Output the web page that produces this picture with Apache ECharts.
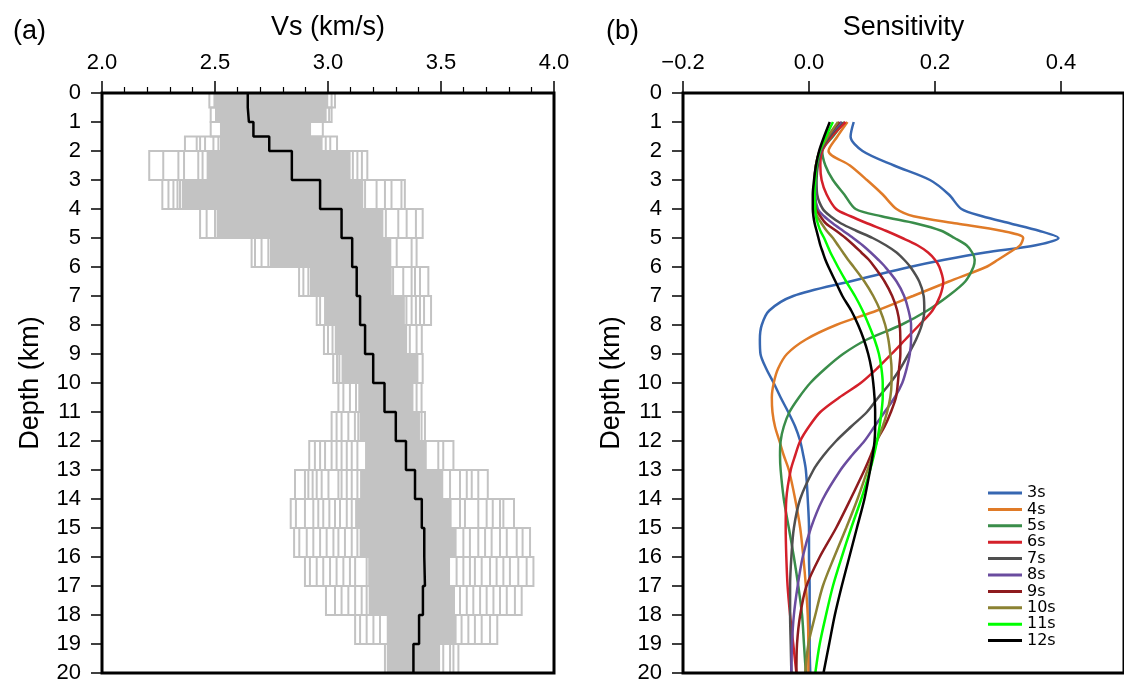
<!DOCTYPE html>
<html>
<head>
<meta charset="utf-8">
<script src="https://cdn.jsdelivr.net/npm/echarts@6/dist/echarts.min.js"></script>
<style>
html,body{margin:0;padding:0;background:#fff;}
#chart{width:1124px;height:684px;}
</style>
</head>
<body>
<div id="chart"></div>
<script>
// ---------- Panel (a): Vs profiles ----------
var layerTop    = [0, 0.5, 1, 1.5, 2, 3, 4, 5, 6, 7, 8, 9, 10, 11, 12, 13, 14, 15, 16, 17, 18, 19];
var layerBottom = [0.5, 1, 1.5, 2, 3, 4, 5, 6, 7, 8, 9, 10, 11, 12, 13, 14, 15, 16, 17, 18, 19, 20];
var vsMean = [2.645, 2.65, 2.67, 2.74, 2.84, 2.965, 3.06, 3.107, 3.127, 3.142, 3.164, 3.20, 3.25, 3.30, 3.345, 3.385, 3.415, 3.426, 3.429, 3.42, 3.403, 3.378];
var vsMin  = [2.475, 2.481, 2.481, 2.367, 2.209, 2.267, 2.434, 2.662, 2.872, 2.95, 2.982, 3.023, 3.046, 3.016, 2.917, 2.854, 2.835, 2.850, 2.898, 2.991, 3.120, 3.252];
var vsMax  = [3.031, 3.016, 2.977, 3.04, 3.174, 3.340, 3.419, 3.392, 3.444, 3.456, 3.415, 3.419, 3.414, 3.429, 3.555, 3.707, 3.823, 3.894, 3.909, 3.857, 3.749, 3.577];
var vsDenseLo = [2.493, 2.50, 2.522, 2.522, 2.463, 2.353, 2.507, 2.743, 2.92, 2.99, 3.03, 3.06, 3.134, 3.14, 3.164, 3.142, 3.12, 3.14, 3.178, 3.18, 3.26, 3.26];
var vsDenseHi = [3.001, 2.994, 2.925, 2.976, 3.10, 3.156, 3.245, 3.28, 3.282, 3.34, 3.35, 3.40, 3.378, 3.407, 3.437, 3.510, 3.547, 3.569, 3.540, 3.562, 3.569, 3.496];
var vsSparse = [
  [3.016],
  [3.005],
  [],
  [2.419, 2.434, 2.456, 2.493, 2.515, 2.99, 3.01],
  [2.271, 2.338, 2.363, 2.426, 2.445, 3.11, 3.13, 3.15],
  [2.294, 2.316, 2.334, 2.345, 3.164, 3.215, 3.252, 3.281, 3.325],
  [2.463, 2.50, 3.256, 3.311, 3.348, 3.389],
  [2.677, 2.706, 2.736, 3.304, 3.37],
  [2.891, 2.913, 3.288, 3.333, 3.37, 3.385, 3.407],
  [2.965, 2.987, 3.347, 3.37, 3.389, 3.407, 3.425],
  [3.0, 3.02, 3.362, 3.392],
  [3.04, 3.05],
  [3.068, 3.097, 3.124, 3.392],
  [3.038, 3.060, 3.090, 3.119, 3.134, 3.414],
  [2.942, 2.965, 2.987, 3.016, 3.038, 3.060, 3.083, 3.105, 3.130, 3.488, 3.510],
  [2.898, 2.913, 2.932, 2.950, 2.972, 3.002, 3.046, 3.060, 3.083, 3.105, 3.130, 3.540, 3.584, 3.614, 3.636, 3.665],
  [2.858, 2.898, 2.935, 2.957, 2.979, 3.006, 3.031, 3.053, 3.083, 3.105, 3.584, 3.606, 3.665, 3.702, 3.729, 3.761, 3.776],
  [2.873, 2.906, 2.935, 2.965, 2.994, 3.024, 3.046, 3.075, 3.105, 3.130, 3.599, 3.628, 3.665, 3.695, 3.724, 3.761, 3.791, 3.835, 3.861],
  [2.920, 2.950, 2.979, 3.009, 3.038, 3.068, 3.097, 3.120, 3.171, 3.569, 3.599, 3.628, 3.650, 3.680, 3.717, 3.746, 3.776, 3.805, 3.842, 3.879],
  [3.031, 3.060, 3.090, 3.120, 3.149, 3.171, 3.584, 3.614, 3.643, 3.673, 3.702, 3.732, 3.761, 3.791, 3.827],
  [3.142, 3.171, 3.201, 3.230, 3.591, 3.621, 3.650, 3.680, 3.717],
  [3.510, 3.540, 3.555]
];

// ---------- Panel (b): sensitivity kernels ----------
var kernelDepth = [1, 1.5, 2, 2.5, 3, 3.5, 4, 4.25, 4.5, 4.75, 5, 5.25, 5.5, 5.75, 6, 6.5, 7, 7.5, 8, 8.5, 9, 9.5, 10, 10.5, 11, 11.5, 12, 12.5, 13, 14, 15, 16, 17, 18, 19, 20];
var periods = ['3s', '4s', '5s', '6s', '7s', '8s', '9s', '10s', '11s', '12s'];
var periodColors = ['#3767b1', '#e07b28', '#3a8d4a', '#d4202a', '#4f4f4f', '#6a4c9f', '#8e1b1e', '#8b8233', '#00ff00', '#000000'];
var k3s  = [0.071, 0.066, 0.085, 0.135, 0.192, 0.222, 0.242, 0.275, 0.320, 0.365, 0.396, 0.360, 0.280, 0.215, 0.160, 0.065, -0.025, -0.063, -0.075, -0.078, -0.077, -0.068, -0.056, -0.045, -0.033, -0.022, -0.014, -0.009, -0.005, -0.002, 0.000, 0.000, 0.001, 0.001, 0.001, 0.002];
var k4s  = [0.061, 0.045, 0.031, 0.065, 0.092, 0.117, 0.139, 0.166, 0.235, 0.305, 0.340, 0.335, 0.318, 0.300, 0.281, 0.222, 0.165, 0.108, 0.043, -0.005, -0.035, -0.049, -0.056, -0.059, -0.058, -0.054, -0.047, -0.040, -0.032, -0.022, -0.014, -0.009, -0.005, -0.002, -0.001, -0.001];
var k5s  = [0.056, 0.038, 0.021, 0.026, 0.038, 0.056, 0.074, 0.115, 0.170, 0.210, 0.231, 0.250, 0.259, 0.263, 0.261, 0.248, 0.221, 0.188, 0.146, 0.092, 0.054, 0.026, 0.002, -0.016, -0.031, -0.040, -0.045, -0.046, -0.045, -0.040, -0.032, -0.024, -0.017, -0.011, -0.008, -0.005];
var k6s  = [0.058, 0.036, 0.021, 0.018, 0.020, 0.028, 0.043, 0.066, 0.093, 0.122, 0.148, 0.172, 0.189, 0.200, 0.207, 0.213, 0.208, 0.196, 0.175, 0.153, 0.131, 0.108, 0.082, 0.048, 0.018, 0.000, -0.014, -0.022, -0.029, -0.036, -0.037, -0.036, -0.034, -0.030, -0.025, -0.020];
var k7s  = [0.053, 0.033, 0.019, 0.014, 0.012, 0.013, 0.022, 0.034, 0.051, 0.075, 0.101, 0.122, 0.139, 0.151, 0.161, 0.175, 0.182, 0.183, 0.179, 0.170, 0.158, 0.145, 0.129, 0.110, 0.092, 0.067, 0.043, 0.023, 0.007, -0.014, -0.024, -0.028, -0.030, -0.030, -0.029, -0.028];
var k8s  = [0.051, 0.030, 0.018, 0.012, 0.010, 0.010, 0.014, 0.024, 0.038, 0.054, 0.070, 0.085, 0.098, 0.110, 0.121, 0.139, 0.151, 0.158, 0.162, 0.162, 0.160, 0.155, 0.148, 0.136, 0.120, 0.104, 0.088, 0.068, 0.050, 0.022, 0.003, -0.010, -0.018, -0.024, -0.027, -0.028];
var k9s  = [0.048, 0.030, 0.017, 0.011, 0.009, 0.009, 0.011, 0.018, 0.027, 0.043, 0.058, 0.071, 0.083, 0.095, 0.104, 0.120, 0.132, 0.140, 0.144, 0.145, 0.145, 0.143, 0.141, 0.138, 0.130, 0.120, 0.107, 0.098, 0.088, 0.066, 0.043, 0.017, -0.004, -0.014, -0.019, -0.020];
var k10s = [0.046, 0.030, 0.017, 0.011, 0.009, 0.008, 0.009, 0.013, 0.020, 0.028, 0.038, 0.046, 0.054, 0.062, 0.071, 0.088, 0.102, 0.113, 0.121, 0.126, 0.129, 0.131, 0.131, 0.129, 0.124, 0.117, 0.108, 0.101, 0.093, 0.077, 0.059, 0.040, 0.022, 0.010, -0.001, -0.006];
var k11s = [0.038, 0.027, 0.017, 0.012, 0.010, 0.009, 0.010, 0.011, 0.014, 0.018, 0.024, 0.029, 0.034, 0.040, 0.046, 0.059, 0.073, 0.085, 0.095, 0.104, 0.111, 0.115, 0.117, 0.117, 0.115, 0.112, 0.108, 0.103, 0.097, 0.083, 0.067, 0.052, 0.038, 0.027, 0.017, 0.010];
var k12s = [0.033, 0.024, 0.016, 0.011, 0.008, 0.006, 0.006, 0.007, 0.009, 0.012, 0.015, 0.018, 0.022, 0.026, 0.031, 0.042, 0.053, 0.067, 0.078, 0.087, 0.094, 0.099, 0.102, 0.104, 0.105, 0.105, 0.104, 0.101, 0.097, 0.088, 0.076, 0.064, 0.052, 0.041, 0.032, 0.023];
var kernels = [k3s, k4s, k5s, k6s, k7s, k8s, k9s, k10s, k11s, k12s];

var depthTicks = [0, 20, 1];

// ---------- build ----------
var FONT = "'Liberation Sans', Arial, Helvetica, sans-serif";
var GREY = '#c3c3c3';
var TICK_FS = 22, TITLE_FS = 27;

var meanPath = [];
for (var i = 0; i < layerTop.length; i++) {
  meanPath.push([vsMean[i], layerTop[i]]);
  meanPath.push([vsMean[i], layerBottom[i]]);
}

function renderLayer(params, api) {
  var i = params.dataIndex;
  var children = [];
  var pTop = api.coord([vsMin[i], layerTop[i]]);
  var pBot = api.coord([vsMax[i], layerBottom[i]]);
  var dLo = api.coord([vsDenseLo[i], layerTop[i]]);
  var dHi = api.coord([vsDenseHi[i], layerBottom[i]]);
  children.push({
    type: 'rect',
    shape: {x: dLo[0], y: dLo[1], width: dHi[0] - dLo[0], height: dHi[1] - dLo[1]},
    style: {fill: GREY, stroke: null}
  });
  children.push({
    type: 'rect',
    shape: {x: pTop[0], y: pTop[1], width: pBot[0] - pTop[0], height: pBot[1] - pTop[1]},
    style: {fill: null, stroke: GREY, lineWidth: 2}
  });
  var arr = vsSparse[i];
  for (var k = 0; k < arr.length; k++) {
    var a = api.coord([arr[k], layerTop[i]]);
    var b = api.coord([arr[k], layerBottom[i]]);
    children.push({
      type: 'line',
      shape: {x1: a[0], y1: a[1], x2: b[0], y2: b[1]},
      style: {stroke: GREY, lineWidth: 2}
    });
  }
  return {type: 'group', children: children};
}

var series = [
  {
    type: 'custom',
    xAxisIndex: 0, yAxisIndex: 0,
    renderItem: renderLayer,
    data: layerTop.map(function (t, i) { return [vsMean[i], t]; }),
    z: 1, silent: true
  },
  {
    type: 'line',
    xAxisIndex: 0, yAxisIndex: 0,
    data: meanPath,
    showSymbol: false, symbol: 'none',
    lineStyle: {color: '#000', width: 2.5},
    z: 3, silent: true
  }
];

periods.forEach(function (name, j) {
  series.push({
    name: name,
    type: 'line',
    xAxisIndex: 1, yAxisIndex: 1,
    data: kernelDepth.map(function (d, i) { return [kernels[j][i], d]; }),
    smooth: 0.3,
    showSymbol: false, symbol: 'none',
    color: periodColors[j],
    lineStyle: {color: periodColors[j], width: 2.5},
    z: 3 + j * 0.01, silent: true
  });
});

function yAxisCfg(gridIndex) {
  return {
    type: 'value', gridIndex: gridIndex, inverse: true, position: 'left',
    min: depthTicks[0], max: depthTicks[1], interval: depthTicks[2],
    name: 'Depth (km)', nameLocation: 'middle', nameGap: 58, nameRotate: 90,
    nameTextStyle: {fontSize: TITLE_FS, color: '#000', fontFamily: FONT},
    axisLine: {show: false, onZero: false},
    axisTick: {show: true, length: 11, inside: false, lineStyle: {color: '#000', width: 1.5}},
    axisLabel: {fontSize: TICK_FS, color: '#000', fontFamily: FONT, margin: 21},
    splitLine: {show: false}
  };
}

var option = {
  animation: false,
  backgroundColor: '#fff',
  title: [
    {text: '(a)', left: 8, top: 13, textStyle: {fontSize: TITLE_FS, fontWeight: 'normal', color: '#000', fontFamily: FONT}},
    {text: '(b)', left: 601, top: 13, textStyle: {fontSize: TITLE_FS, fontWeight: 'normal', color: '#000', fontFamily: FONT}}
  ],
  grid: [
    {left: 102, top: 93, width: 452, height: 580, show: true, borderColor: '#000', borderWidth: 3, backgroundColor: 'transparent', z: 10},
    {left: 683, top: 93, width: 451.5, height: 580, show: true, borderColor: '#000', borderWidth: 3, backgroundColor: 'transparent', z: 10}
  ],
  xAxis: [
    {
      type: 'value', gridIndex: 0, position: 'top', min: 2, max: 4, interval: 0.5,
      name: 'Vs (km/s)', nameLocation: 'middle', nameGap: 52,
      nameTextStyle: {fontSize: TITLE_FS, color: '#000', fontFamily: FONT},
      axisLine: {show: false, onZero: false},
      axisTick: {show: true, length: 12, inside: false, lineStyle: {color: '#000', width: 1.5}},
      minorTick: {show: true, splitNumber: 5, length: 6, lineStyle: {color: '#000', width: 1.2}},
      axisLabel: {fontSize: TICK_FS, color: '#000', fontFamily: FONT, margin: 19,
        formatter: function (v) { return v.toFixed(1); }},
      splitLine: {show: false}, minorSplitLine: {show: false}
    },
    {
      type: 'value', gridIndex: 1, position: 'top', min: -0.2, max: 0.5, interval: 0.2,
      name: 'Sensitivity', nameLocation: 'middle', nameGap: 52,
      nameTextStyle: {fontSize: TITLE_FS, color: '#000', fontFamily: FONT},
      axisLine: {show: false, onZero: false},
      axisTick: {show: true, length: 12, inside: false, lineStyle: {color: '#000', width: 1.5}},
      axisLabel: {fontSize: TICK_FS, color: '#000', fontFamily: FONT, margin: 19, showMaxLabel: false,
        formatter: function (v) { if (v > 0.45) return ''; return v.toFixed(1).replace('-', '\u2212'); }},
      splitLine: {show: false}
    }
  ],
  yAxis: [yAxisCfg(0), yAxisCfg(1)],
  legend: {
    data: periods,
    orient: 'vertical',
    left: 983, top: 480,
    icon: 'rect', itemWidth: 34, itemHeight: 3, itemGap: 0.4,
    textStyle: {fontSize: 16, color: '#000', fontFamily: "'DejaVu Sans', sans-serif", lineHeight: 16},
    selectedMode: false
  },
  series: series
};

var chart = echarts.init(document.getElementById('chart'), null, {renderer: 'canvas'});
chart.setOption(option);
</script>
</body>
</html>
